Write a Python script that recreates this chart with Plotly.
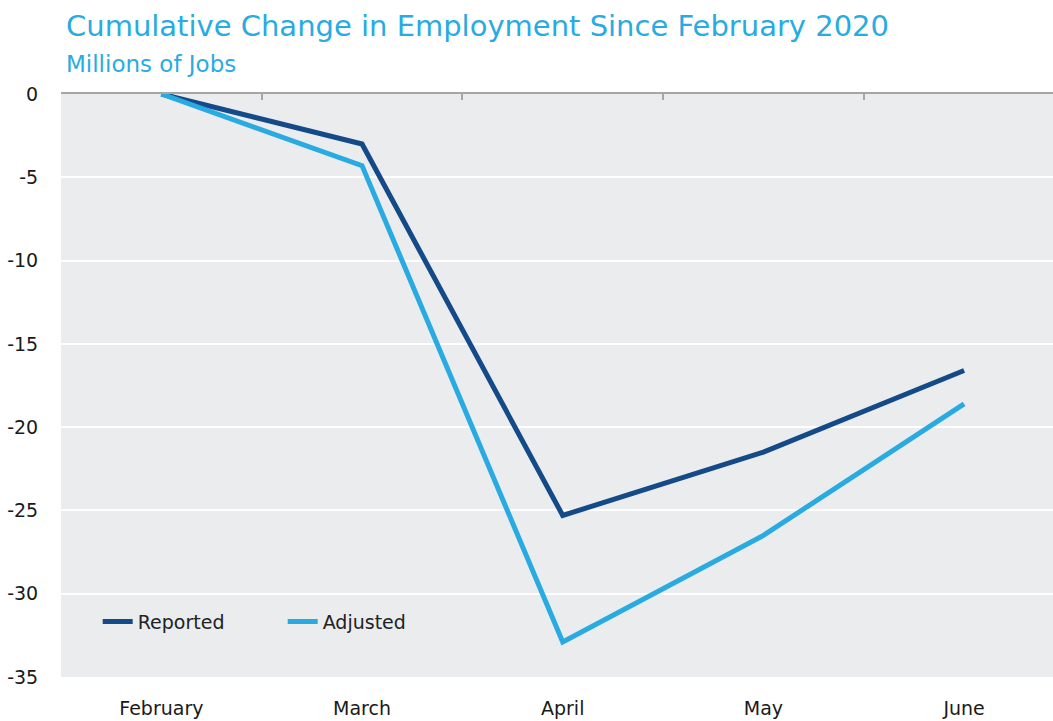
import plotly.graph_objects as go

months = ["February", "March", "April", "May", "June"]
reported = [0, -3.0, -25.3, -21.5, -16.6]
adjusted = [0, -4.3, -32.9, -26.5, -18.6]
y_ticks = [0, -5, -10, -15, -20, -25, -30, -35]
y_tick_labels = ["0", "-5", "-10", "-15", "-20", "-25", "-30", "-35"]

DARK = "#134A87"
LIGHT = "#29ABE2"
FONT = "DejaVu Sans"

fig = go.Figure()
fig.add_trace(go.Scatter(x=months, y=reported, mode="lines", name="Reported",
                         line=dict(color=DARK, width=5)))
fig.add_trace(go.Scatter(x=months, y=adjusted, mode="lines", name="Adjusted",
                         line=dict(color=LIGHT, width=5)))

xr = [-0.5, 4.443]
fig.update_layout(
    width=1053, height=721,
    margin=dict(l=61, r=0, t=94, b=44),
    paper_bgcolor="white",
    plot_bgcolor="#EBECEE",
    font=dict(family=FONT, color="#1a1a1a", size=19),
    showlegend=True,
    legend=dict(orientation="h", x=0.037, y=0.095, xanchor="left", yanchor="middle",
                bgcolor="rgba(0,0,0,0)", font=dict(size=19, color="#222"),
                itemwidth=30, entrywidth=140),
    xaxis=dict(type="category", range=xr, showgrid=False, zeroline=False,
               showline=False, ticks="outside", ticklen=14, tickcolor="rgba(0,0,0,0)",
               tickfont=dict(size=19)),
    xaxis2=dict(overlaying="x", side="top", range=xr, showgrid=False, zeroline=False,
                showline=True, linecolor="#A6A6A6", linewidth=2,
                tickvals=[-0.5, 0.5, 1.5, 2.5, 3.5], ticks="inside", ticklen=6,
                tickcolor="#A6A6A6", tickwidth=2, showticklabels=False),
    yaxis=dict(range=[-35, 0], tickvals=y_ticks, ticktext=y_tick_labels, showgrid=True,
               gridcolor="white", gridwidth=2, zeroline=False, showline=False,
               ticks="outside", ticklen=18, tickcolor="rgba(0,0,0,0)",
               tickfont=dict(size=19)),
    annotations=[
        dict(text="Cumulative Change in Employment Since February 2020", xref="paper",
             yref="paper", x=0, y=1, xanchor="left", yanchor="bottom", xshift=3, yshift=49,
             showarrow=False, font=dict(family=FONT, size=29, color=LIGHT)),
        dict(text="Millions of Jobs", xref="paper", yref="paper", x=0, y=1,
             xanchor="left", yanchor="bottom", xshift=3, yshift=15, showarrow=False,
             font=dict(family=FONT, size=23, color=LIGHT)),
    ],
)
fig.add_trace(go.Scatter(x=[None], y=[None], xaxis="x2", showlegend=False, hoverinfo="skip"))
fig.write_html("out.html")
